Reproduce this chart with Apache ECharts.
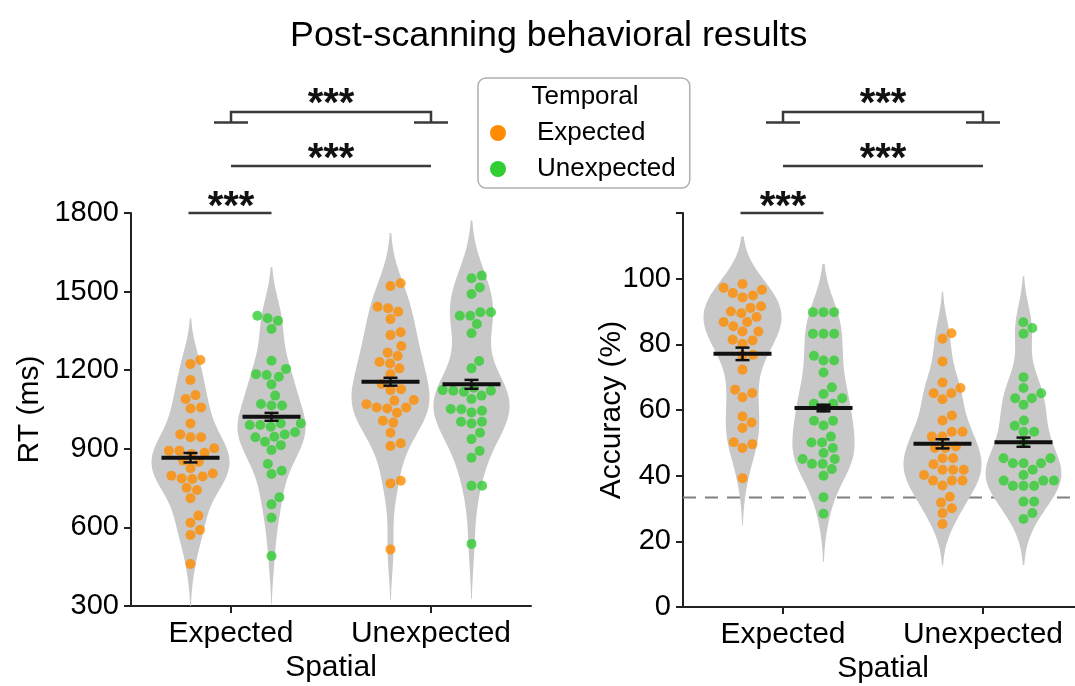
<!DOCTYPE html>
<html><head><meta charset="utf-8">
<script src="https://cdn.jsdelivr.net/npm/echarts@6/dist/echarts.min.js"></script>
<style>html,body{margin:0;padding:0;background:#fff}#c{width:1075px;height:686px}</style>
</head><body><div id="c"></div><script>
// ---------------- data ----------------
const spatialCategories = ['Expected', 'Unexpected'];
const temporalCategories = ['Expected', 'Unexpected'];
const rtTicks = [300, 600, 900, 1200, 1500, 1800];
const accTicks = [0, 20, 40, 60, 80, 100, 120];

// RT (ms): spatial x temporal
const rtExpExp = [1239,1224,1163,1105,1090,1058,1054,997,955,944,944,902,893,880,885,893,851,855,826,806,794,785,787,797,743,751,711,645,618,590,571,460];
const rtExpUnexp = [1389,1398,1408,1357,1236,1205,1175,1182,1185,1146,1103,1065,1065,1071,997,997,991,984,991,946,955,927,944,963,914,895,842,816,804,715,688,637,491];
const rtUnexpExp = [1532,1521,1423,1436,1442,1395,1345,1334,1292,1254,1267,1226,1231,1207,1185,1147,1124,1127,1086,1084,1070,1058,1054,1058,1038,1000,1007,961,921,911,778,768,516];
const rtUnexpUnexp = [1561,1551,1516,1491,1421,1421,1408,1408,1376,1341,1235,1207,1133,1122,1103,1090,1118,1122,1124,1051,1039,1045,1052,1003,997,1003,961,937,892,866,759,759,537];
const rtMeans = [866, 1022, 1156, 1146];
const rtSems = [18, 15, 15, 17];

// Accuracy (%)
const accExpExp = [98.4,96.6,94.9,94.3,95.6,97.2,91.6,91.1,89.5,90.0,88.3,86.8,86.8,85.5,83.9,83.9,81.4,81.2,80.2,76.8,76.6,72.3,65.2,63.9,66.2,58.0,56.2,54.5,49.6,48.4,50.2,39.2];
const accExpUnexp = [89.8,89.8,89.8,83.2,83.2,83.2,75.1,75.1,76.5,71.4,66.9,64.9,63.6,61.9,61.9,60.6,56.7,55.3,56.7,51.9,48.4,50.1,50.1,46.9,45.1,43.6,43.6,45.1,42.0,40.0,33.4,28.4];
const accUnexpExp = [83.4,81.7,74.8,68.4,66.7,65.1,65.1,63.3,58.3,56.8,53.4,53.4,51.9,51.9,48.9,48.4,48.4,45.3,45.3,43.5,41.8,41.8,41.8,40.2,38.5,38.5,38.5,37.0,33.6,31.8,30.1,28.6,25.3];
const accUnexpUnexp = [86.7,85.0,83.2,70.0,66.7,65.1,63.6,63.6,61.6,56.8,55.2,53.4,53.4,50.0,45.3,45.3,43.8,43.8,43.8,41.8,40.2,38.5,38.5,36.9,36.9,36.9,38.5,32.1,32.1,28.6,26.8];
const accMeans = [77.1, 60.6, 49.7, 50.2];
const accSems = [1.9, 1.0, 1.4, 1.4];
const chanceLevel = 100 / 3;

// ---------------- layout / style constants ----------------
const FONT = 'Liberation Sans, Arial, Helvetica, sans-serif';
const ORANGE = '#FF8C00', GREEN = '#32CD32', VIOLIN = '#C8C8C8', INK = '#222';
const TEMPORAL_OFFSET = 0.405;   // x offset of each temporal violin from spatial centre (axis units)
const VIOLIN_HALF = 39;          // px half-width of widest violin within a spatial level
const BW_ADJUST = 0.85, CUT = 2;
const DOT_R = 5, DOT_D = 10.6;

function groupX(g) { const s = Math.floor(g / 2), t = g % 2; return 2 * s + 1 + (t ? TEMPORAL_OFFSET : -TEMPORAL_OFFSET); }

function kde(vals) {
  const n = vals.length;
  const mean = vals.reduce((a, b) => a + b, 0) / n;
  const sd = Math.sqrt(vals.reduce((a, b) => a + (b - mean) * (b - mean), 0) / (n - 1));
  const bw = BW_ADJUST * sd * Math.pow(n, -0.2);
  const lo = Math.min(...vals) - CUT * bw, hi = Math.max(...vals) + CUT * bw;
  const pts = [], N = 160;
  for (let i = 0; i <= N; i++) {
    const y = lo + (hi - lo) * i / N;
    let s = 0;
    for (const v of vals) { const z = (y - v) / bw; s += Math.exp(-0.5 * z * z); }
    pts.push([y, s / (n * bw * Math.sqrt(2 * Math.PI))]);
  }
  return pts;
}

function swarm(ys, d) {
  const order = ys.map((y, i) => i).sort((a, b) => ys[b] - ys[a]);
  const placed = [], off = new Array(ys.length).fill(0);
  for (const i of order) {
    const y = ys[i];
    const nb = placed.filter(p => Math.abs(p.y - y) < d);
    const cands = [0];
    for (const p of nb) { const dx = Math.sqrt(d * d - (p.y - y) * (p.y - y)); cands.push(p.x + dx, p.x - dx); }
    cands.sort((a, b) => Math.abs(a) - Math.abs(b) || b - a);
    for (const c of cands) {
      if (nb.every(p => (p.x - c) * (p.x - c) + (p.y - y) * (p.y - y) >= d * d - 1e-6)) { off[i] = c; placed.push({ x: c, y }); break; }
    }
  }
  return off;
}

const panels = [
  { groups: [rtExpExp, rtExpUnexp, rtUnexpExp, rtUnexpUnexp], means: rtMeans, sems: rtSems },
  { groups: [accExpExp, accExpUnexp, accUnexpExp, accUnexpUnexp], means: accMeans, sems: accSems }
];
panels.forEach(p => {
  p.dens = p.groups.map(kde);
  p.peak = p.dens.map(d => Math.max(...d.map(q => q[1])));
  // density scaled within each spatial level (area-type scaling)
  p.levelMax = [Math.max(p.peak[0], p.peak[1]), Math.max(p.peak[2], p.peak[3])];
  p.swarmCache = {};
});

function violinSeries(pi) {
  const P = panels[pi];
  return {
    type: 'custom', xAxisIndex: pi, yAxisIndex: pi, z: 2, silent: true,
    data: [0, 1, 2, 3].map(g => [groupX(g), P.means[g]]),
    renderItem: (params, api) => {
      const g = params.dataIndex, xc = groupX(g);
      const sc = VIOLIN_HALF / P.levelMax[Math.floor(g / 2)];
      const R = [], L = [];
      for (const [y, d] of P.dens[g]) {
        const p = api.coord([xc, y]);
        R.push([p[0] + d * sc, p[1]]); L.push([p[0] - d * sc, p[1]]);
      }
      return { type: 'polygon', shape: { points: R.concat(L.reverse()) }, style: { fill: VIOLIN } };
    }
  };
}

function dotSeries(pi, t) {
  const P = panels[pi];
  const data = [];
  [0, 1].forEach(s => { const g = 2 * s + t; P.groups[g].forEach((v, i) => data.push([groupX(g), v, g, i])); });
  return {
    type: 'custom', name: temporalCategories[t], xAxisIndex: pi, yAxisIndex: pi, z: 3, silent: true,
    itemStyle: { color: t ? GREEN : ORANGE },
    data,
    renderItem: (params, api) => {
      const g = api.value(2), i = api.value(3), xc = groupX(g);
      if (!P.swarmCache[g]) {
        const ys = P.groups[g].map(v => api.coord([xc, v])[1]);
        P.swarmCache[g] = swarm(ys, DOT_D);
      }
      const p = api.coord([xc, api.value(1)]);
      return { type: 'circle', shape: { cx: p[0] + P.swarmCache[g][i], cy: p[1], r: DOT_R },
        style: { fill: t ? GREEN : ORANGE, opacity: 0.8 } };
    }
  };
}

function statSeries(pi) {
  const P = panels[pi];
  return {
    type: 'custom', xAxisIndex: pi, yAxisIndex: pi, z: 4, silent: true,
    data: [0, 1, 2, 3].map(g => [groupX(g), P.means[g], P.sems[g]]),
    renderItem: (params, api) => {
      const x = api.value(0), m = api.value(1), e = api.value(2);
      const pm = api.coord([x, m]), ph = api.coord([x, m + e]), pl = api.coord([x, m - e]);
      const st = { stroke: '#111', lineWidth: 2.5 };
      return { type: 'group', children: [
        { type: 'line', shape: { x1: pm[0] - 29, y1: pm[1], x2: pm[0] + 29, y2: pm[1] }, style: { stroke: '#111', lineWidth: 4 } },
        { type: 'line', shape: { x1: pm[0], y1: ph[1], x2: pm[0], y2: pl[1] }, style: st },
        { type: 'line', shape: { x1: pm[0] - 7, y1: ph[1], x2: pm[0] + 7, y2: ph[1] }, style: st },
        { type: 'line', shape: { x1: pm[0] - 7, y1: pl[1], x2: pm[0] + 7, y2: pl[1] }, style: st }
      ] };
    }
  };
}

function sigSeries(pi, yTop) {
  return {
    type: 'custom', xAxisIndex: pi, yAxisIndex: pi, z: 5, silent: true,
    data: [[1, yTop]],
    renderItem: (params, api) => {
      const top = api.coord([0, yTop])[1];
      const cx = x => api.coord([x, yTop])[0];
      const a = cx(groupX(0)), b = cx(groupX(1)), s1 = cx(1), s2 = cx(3);
      const ls = { stroke: '#3a3a3a', lineWidth: 2.5 };
      const star = (x, y) => ({ type: 'text', style: { x, y, text: '***', fill: '#111', font: 'bold 40px ' + FONT, align: 'center', verticalAlign: 'middle' } });
      const yLow = top, yMid = top - 47, yFoot = top - 90.5, yBr = top - 101;
      return { type: 'group', children: [
        { type: 'line', shape: { x1: a - 2, y1: yLow, x2: b, y2: yLow }, style: ls },
        star((a + b) / 2, yLow - 5),
        { type: 'line', shape: { x1: s1, y1: yMid, x2: s2, y2: yMid }, style: ls },
        star((s1 + s2) / 2, yMid - 6),
        { type: 'polyline', shape: { points: [[s1, yFoot], [s1, yBr], [s2, yBr], [s2, yFoot]] }, style: Object.assign({ fill: null }, ls) },
        { type: 'line', shape: { x1: s1 - 17, y1: yFoot, x2: s1 + 17, y2: yFoot }, style: ls },
        { type: 'line', shape: { x1: s2 - 17, y1: yFoot, x2: s2 + 17, y2: yFoot }, style: ls },
        star((s1 + s2) / 2, yBr - 7)
      ] };
    }
  };
}

function chanceSeries() {
  return {
    type: 'custom', xAxisIndex: 1, yAxisIndex: 1, z: 1, silent: true,
    data: [[0, chanceLevel]],
    renderItem: (params, api) => {
      const p1 = api.coord([0, chanceLevel]), p2 = api.coord([4, chanceLevel]);
      return { type: 'line', shape: { x1: p1[0], y1: p1[1], x2: p2[0], y2: p2[1] },
        style: { stroke: '#808080', lineWidth: 2, lineDash: [13, 9] } };
    }
  };
}

const axisText = { fontSize: 29, color: '#000', fontFamily: FONT };
const xLabelText = { fontSize: 30, color: '#000', fontFamily: FONT };
function xAxis(gi) {
  return {
    type: 'value', gridIndex: gi, min: 0, max: 4,
    name: 'Spatial', nameLocation: 'middle', nameGap: 47, nameTextStyle: xLabelText, nameMoveOverlap: false,
    axisLine: { show: true, lineStyle: { color: INK, width: 2 } },
    axisTick: { show: true, customValues: [1, 3], length: 7, lineStyle: { color: INK, width: 2 } },
    axisLabel: { customValues: [1, 3], formatter: v => spatialCategories[(v - 1) / 2], margin: 13, ...xLabelText },
    splitLine: { show: false }
  };
}
function yAxis(gi, ticks, name, gap, hideMax) {
  return {
    type: 'value', gridIndex: gi, min: ticks[0], max: ticks[ticks.length - 1], interval: ticks[1] - ticks[0],
    name, nameLocation: 'middle', nameGap: gap, nameTextStyle: xLabelText, nameMoveOverlap: false,
    axisLine: { show: true, lineStyle: { color: INK, width: 2 } },
    axisTick: { show: true, length: 7, lineStyle: { color: INK, width: 2 } },
    axisLabel: { margin: 12, ...axisText, formatter: v => (hideMax && v === ticks[ticks.length - 1]) ? '' : String(v) },
    splitLine: { show: false }
  };
}

const chart = echarts.init(document.getElementById('c'), null, { renderer: 'canvas' });
chart.setOption({
  animation: false,
  backgroundColor: '#fff',
  title: { text: 'Post-scanning behavioral results', left: 285, top: 13,
    textStyle: { fontSize: 35.8, fontWeight: 'normal', color: '#000', fontFamily: FONT } },
  legend: {
    left: 478, top: 78, orient: 'vertical', selectedMode: false, z: 10,
    padding: [40, 14, 4, 12], itemGap: 6, itemWidth: 16, itemHeight: 16,
    borderColor: '#b0b0b0', borderWidth: 1.5, borderRadius: 8, backgroundColor: '#fff',
    textStyle: { fontSize: 26, lineHeight: 30, color: '#000', fontFamily: FONT, padding: [0, 0, 0, 26] },
    data: [
      { name: 'Expected', icon: 'circle', itemStyle: { color: ORANGE, opacity: 1 } },
      { name: 'Unexpected', icon: 'circle', itemStyle: { color: GREEN, opacity: 1 } }
    ]
  },
  graphic: [{ type: 'text', z: 100, zlevel: 1, x: 585, y: 97,
    style: { text: 'Temporal', font: '26px ' + FONT, fill: '#000', align: 'center', verticalAlign: 'middle' } }],
  grid: [
    { left: 131, top: 213, width: 400, height: 393, outerBoundsMode: 'none', containLabel: false },
    { left: 683, top: 213, width: 400, height: 394, outerBoundsMode: 'none', containLabel: false }
  ],
  xAxis: [xAxis(0), xAxis(1)],
  yAxis: [yAxis(0, rtTicks, 'RT (ms)', 86, false), yAxis(1, accTicks, 'Accuracy (%)', 56, true)],
  series: [
    violinSeries(0), violinSeries(1), chanceSeries(),
    dotSeries(0, 0), dotSeries(0, 1), dotSeries(1, 0), dotSeries(1, 1),
    statSeries(0), statSeries(1),
    sigSeries(0, 1800), sigSeries(1, 120)
  ]
});
</script></body></html>
